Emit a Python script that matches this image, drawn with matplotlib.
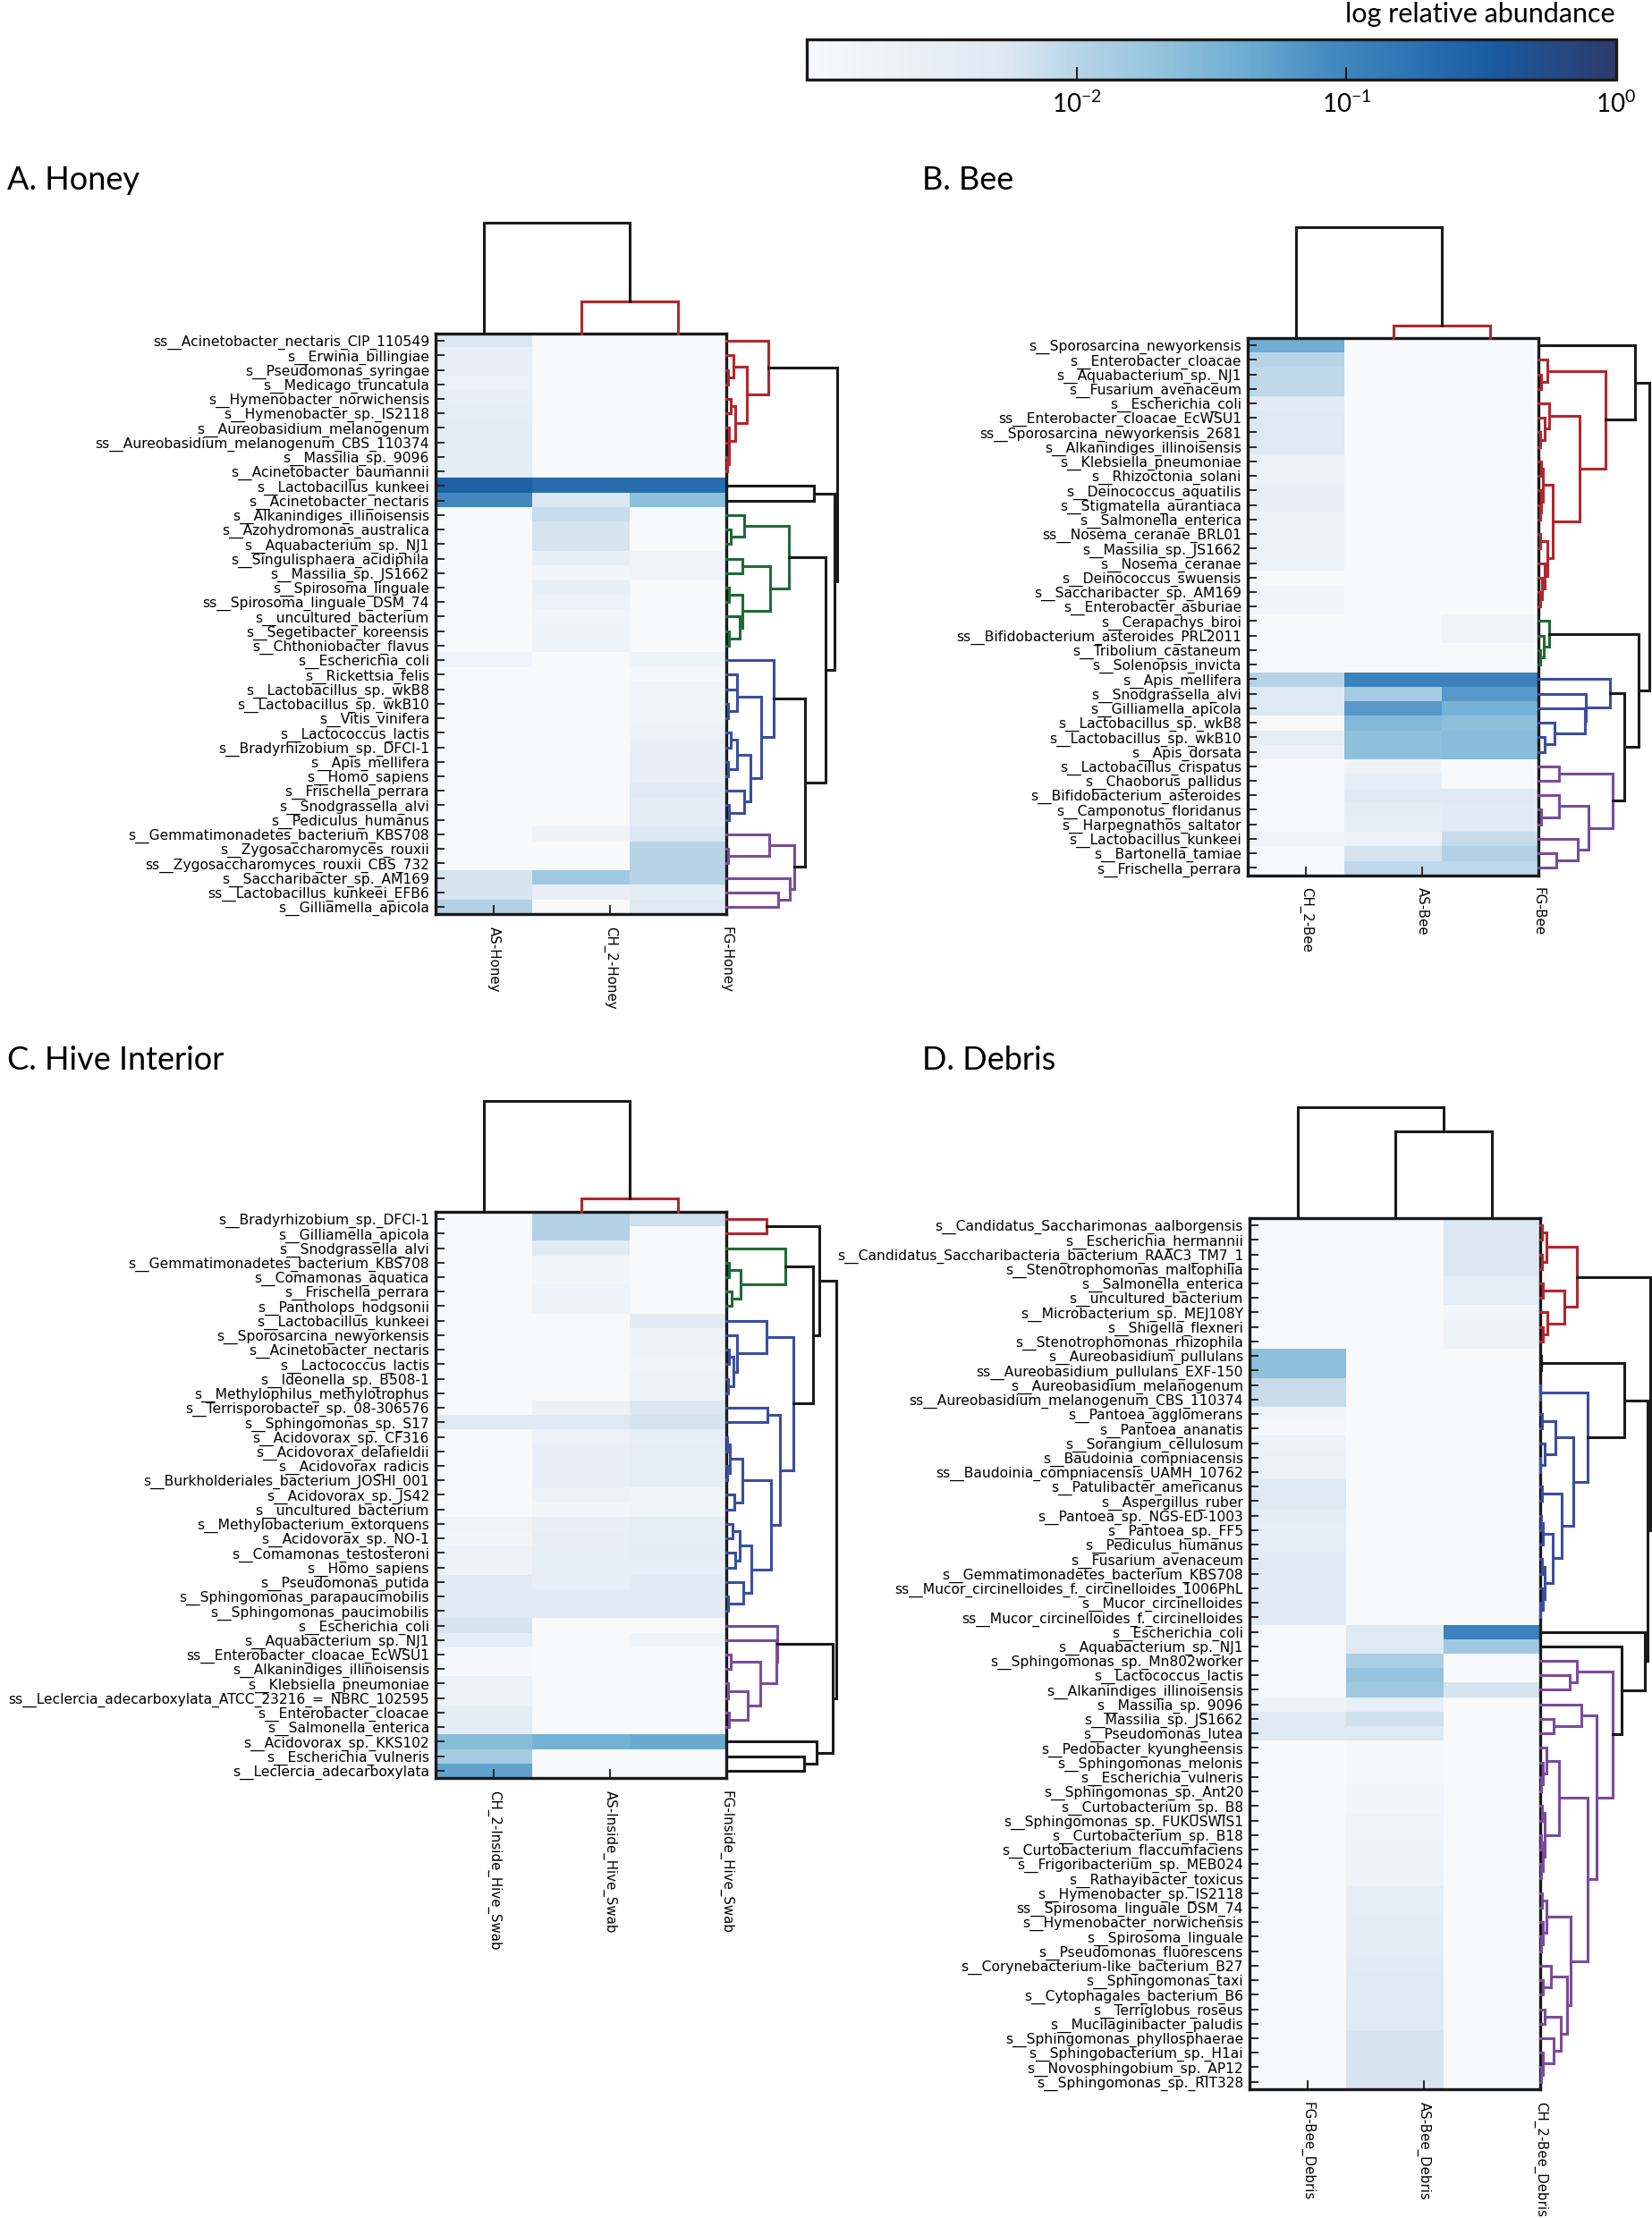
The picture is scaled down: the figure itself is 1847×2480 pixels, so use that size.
import numpy as np
import matplotlib
matplotlib.use('Agg')
import matplotlib.pyplot as plt
from matplotlib.colors import LinearSegmentedColormap, Normalize, LogNorm
from matplotlib.cm import ScalarMappable

# ---------------- DATA ----------------
# values are log10(relative abundance), floor at -3
A_rows = ['ss__Acinetobacter_nectaris_CIP_110549', 's__Erwinia_billingiae', 's__Pseudomonas_syringae',
          's__Medicago_truncatula', 's__Hymenobacter_norwichensis', 's__Hymenobacter_sp._IS2118',
          's__Aureobasidium_melanogenum', 'ss__Aureobasidium_melanogenum_CBS_110374', 's__Massilia_sp._9096',
          's__Acinetobacter_baumannii', 's__Lactobacillus_kunkeei', 's__Acinetobacter_nectaris',
          's__Alkanindiges_illinoisensis', 's__Azohydromonas_australica', 's__Aquabacterium_sp._NJ1',
          's__Singulisphaera_acidiphila', 's__Massilia_sp._JS1662', 's__Spirosoma_linguale',
          'ss__Spirosoma_linguale_DSM_74', 's__uncultured_bacterium', 's__Segetibacter_koreensis',
          's__Chthoniobacter_flavus', 's__Escherichia_coli', 's__Rickettsia_felis', 's__Lactobacillus_sp._wkB8',
          's__Lactobacillus_sp._wkB10', 's__Vitis_vinifera', 's__Lactococcus_lactis',
          's__Bradyrhizobium_sp._DFCI-1', 's__Apis_mellifera', 's__Homo_sapiens', 's__Frischella_perrara',
          's__Snodgrassella_alvi', 's__Pediculus_humanus', 's__Gemmatimonadetes_bacterium_KBS708',
          's__Zygosaccharomyces_rouxii', 'ss__Zygosaccharomyces_rouxii_CBS_732', 's__Saccharibacter_sp._AM169',
          'ss__Lactobacillus_kunkeei_EFB6', 's__Gilliamella_apicola']
A_cols = ['AS-Honey', 'CH_2-Honey', 'FG-Honey']
A_c1 = [-2.25, -2.6, -2.6, -2.65, -2.55, -2.5, -2.45, -2.45, -2.45, -2.45, -0.55, -1.05, -3, -3, -3, -3, -3, -3, -3, -3,
        -3, -3, -2.8, -3, -3, -3, -3, -3, -3, -3, -3, -3, -3, -3, -3, -3, -3, -2.2, -2.2, -1.95]
A_c2 = [-3, -3, -3, -3, -3, -3, -3, -3, -3, -3, -0.68, -2.25, -2.1, -2.2, -2.2, -2.6, -2.9, -2.6, -2.65, -2.8,
        -2.75, -2.75, -3, -3, -3, -3, -3, -3, -3, -3, -3, -3, -3, -3, -2.75, -3, -3, -1.8, -2.55, -3]
A_c3 = [-3, -3, -3, -3, -3, -3, -3, -3, -3, -3, -0.68, -1.65, -3, -3, -3, -2.8, -2.8, -3, -3, -3,
        -3, -3, -2.75, -2.95, -2.8, -2.8, -2.8, -2.7, -2.6, -2.55, -2.55, -2.35, -2.45, -2.45, -2.25, -2.0, -2.0, -2.0, -2.45, -2.3]

B_rows = ['s__Sporosarcina_newyorkensis', 's__Enterobacter_cloacae', 's__Aquabacterium_sp._NJ1',
          's__Fusarium_avenaceum', 's__Escherichia_coli', 'ss__Enterobacter_cloacae_EcWSU1',
          'ss__Sporosarcina_newyorkensis_2681', 's__Alkanindiges_illinoisensis', 's__Klebsiella_pneumoniae',
          's__Rhizoctonia_solani', 's__Deinococcus_aquatilis', 's__Stigmatella_aurantiaca', 's__Salmonella_enterica',
          'ss__Nosema_ceranae_BRL01', 's__Massilia_sp._JS1662', 's__Nosema_ceranae', 's__Deinococcus_swuensis',
          's__Saccharibacter_sp._AM169', 's__Enterobacter_asburiae', 's__Cerapachys_biroi',
          'ss__Bifidobacterium_asteroides_PRL2011', 's__Tribolium_castaneum', 's__Solenopsis_invicta',
          's__Apis_mellifera', 's__Snodgrassella_alvi', 's__Gilliamella_apicola', 's__Lactobacillus_sp._wkB8',
          's__Lactobacillus_sp._wkB10', 's__Apis_dorsata', 's__Lactobacillus_crispatus', 's__Chaoborus_pallidus',
          's__Bifidobacterium_asteroides', 's__Camponotus_floridanus', 's__Harpegnathos_saltator',
          's__Lactobacillus_kunkeei', 's__Bartonella_tamiae', 's__Frischella_perrara']
B_cols = ['CH_2-Bee', 'AS-Bee', 'FG-Bee']
B_c1 = [-1.4, -2.0, -2.05, -2.05, -2.4, -2.3, -2.3, -2.3, -2.65, -2.65, -2.6, -2.6, -2.7, -2.7, -2.7, -2.7, -3,
        -2.85, -2.85, -3, -3, -3, -3, -2.0, -2.3, -2.3, -3, -2.5, -2.7, -3, -3, -3, -3, -3, -2.8, -3, -3]
B_c2 = [-3, -3, -3, -3, -3, -3, -3, -3, -3, -3, -3, -3, -3, -3, -3, -3, -3, -3, -3, -3, -3, -3, -3,
        -0.95, -1.85, -1.2, -1.55, -1.65, -1.65, -2.75, -2.5, -2.3, -2.45, -2.5, -2.65, -2.2, -2.05]
B_c3 = [-3, -3, -3, -3, -3, -3, -3, -3, -3, -3, -3, -3, -3, -3, -3, -3, -3, -3, -3, -2.8, -2.8, -3, -3,
        -0.95, -1.2, -1.45, -1.65, -1.6, -1.6, -3, -3, -2.3, -2.4, -2.4, -2.1, -1.95, -2.05]

C_rows = ['s__Bradyrhizobium_sp._DFCI-1', 's__Gilliamella_apicola', 's__Snodgrassella_alvi',
          's__Gemmatimonadetes_bacterium_KBS708', 's__Comamonas_aquatica', 's__Frischella_perrara',
          's__Pantholops_hodgsonii', 's__Lactobacillus_kunkeei', 's__Sporosarcina_newyorkensis',
          's__Acinetobacter_nectaris', 's__Lactococcus_lactis', 's__Ideonella_sp._B508-1',
          's__Methylophilus_methylotrophus', 's__Terrisporobacter_sp._08-306576', 's__Sphingomonas_sp._S17',
          's__Acidovorax_sp._CF316', 's__Acidovorax_delafieldii', 's__Acidovorax_radicis',
          's__Burkholderiales_bacterium_JOSHI_001', 's__Acidovorax_sp._JS42', 's__uncultured_bacterium',
          's__Methylobacterium_extorquens', 's__Acidovorax_sp._NO-1', 's__Comamonas_testosteroni',
          's__Homo_sapiens', 's__Pseudomonas_putida', 's__Sphingomonas_parapaucimobilis',
          's__Sphingomonas_paucimobilis', 's__Escherichia_coli', 's__Aquabacterium_sp._NJ1',
          'ss__Enterobacter_cloacae_EcWSU1', 's__Alkanindiges_illinoisensis', 's__Klebsiella_pneumoniae',
          'ss__Leclercia_adecarboxylata_ATCC_23216_=_NBRC_102595', 's__Enterobacter_cloacae',
          's__Salmonella_enterica', 's__Acidovorax_sp._KKS102', 's__Escherichia_vulneris',
          's__Leclercia_adecarboxylata']
C_cols = ['CH_2-Inside_Hive_Swab', 'AS-Inside_Hive_Swab', 'FG-Inside_Hive_Swab']
C_c1 = [-3, -3, -3, -3, -3, -3, -3, -3, -3, -3, -3, -3, -3, -3, -2.3, -3, -3, -3, -3, -3, -3, -2.8, -2.9, -2.7,
        -2.75, -2.4, -2.4, -2.4, -2.2, -2.5, -2.95, -2.95, -2.65, -2.65, -2.45, -2.45, -1.6, -1.85, -1.3]
C_c2 = [-1.95, -1.95, -2.35, -2.9, -2.9, -2.7, -2.7, -3, -3, -3, -3, -3, -3, -2.7, -2.3, -2.65, -2.6, -2.6, -2.6,
        -2.7, -2.9, -2.6, -2.55, -2.5, -2.5, -2.55, -2.4, -2.4, -3, -3, -3, -3, -3, -3, -3, -3, -1.45, -3, -3]
C_c3 = [-2.15, -3, -3, -3, -3, -3, -3, -2.4, -2.75, -2.75, -2.8, -2.7, -2.7, -2.25, -2.2, -2.55, -2.5, -2.5, -2.5,
        -2.8, -2.8, -2.5, -2.5, -2.45, -2.5, -2.4, -2.4, -2.4, -3, -2.75, -3, -3, -3, -3, -3, -3, -1.35, -3, -3]

D_rows = ['s__Candidatus_Saccharimonas_aalborgensis', 's__Escherichia_hermannii',
          's__Candidatus_Saccharibacteria_bacterium_RAAC3_TM7_1', 's__Stenotrophomonas_maltophilia',
          's__Salmonella_enterica', 's__uncultured_bacterium', 's__Microbacterium_sp._MEJ108Y',
          's__Shigella_flexneri', 's__Stenotrophomonas_rhizophila', 's__Aureobasidium_pullulans',
          'ss__Aureobasidium_pullulans_EXF-150', 's__Aureobasidium_melanogenum',
          'ss__Aureobasidium_melanogenum_CBS_110374', 's__Pantoea_agglomerans', 's__Pantoea_ananatis',
          's__Sorangium_cellulosum', 's__Baudoinia_compniacensis', 'ss__Baudoinia_compniacensis_UAMH_10762',
          's__Patulibacter_americanus', 's__Aspergillus_ruber', 's__Pantoea_sp._NGS-ED-1003', 's__Pantoea_sp._FF5',
          's__Pediculus_humanus', 's__Fusarium_avenaceum', 's__Gemmatimonadetes_bacterium_KBS708',
          'ss__Mucor_circinelloides_f._circinelloides_1006PhL', 's__Mucor_circinelloides',
          'ss__Mucor_circinelloides_f._circinelloides', 's__Escherichia_coli', 's__Aquabacterium_sp._NJ1',
          's__Sphingomonas_sp._Mn802worker', 's__Lactococcus_lactis', 's__Alkanindiges_illinoisensis',
          's__Massilia_sp._9096', 's__Massilia_sp._JS1662', 's__Pseudomonas_lutea', 's__Pedobacter_kyungheensis',
          's__Sphingomonas_melonis', 's__Escherichia_vulneris', 's__Sphingomonas_sp._Ant20',
          's__Curtobacterium_sp._B8', 's__Sphingomonas_sp._FUKUSWIS1', 's__Curtobacterium_sp._B18',
          's__Curtobacterium_flaccumfaciens', 's__Frigoribacterium_sp._MEB024', 's__Rathayibacter_toxicus',
          's__Hymenobacter_sp._IS2118', 'ss__Spirosoma_linguale_DSM_74', 's__Hymenobacter_norwichensis',
          's__Spirosoma_linguale', 's__Pseudomonas_fluorescens', 's__Corynebacterium-like_bacterium_B27',
          's__Sphingomonas_taxi', 's__Cytophagales_bacterium_B6', 's__Terriglobus_roseus',
          's__Mucilaginibacter_paludis', 's__Sphingomonas_phyllosphaerae', 's__Sphingobacterium_sp._H1ai',
          's__Novosphingobium_sp._AP12', 's__Sphingomonas_sp._RIT328']
D_cols = ['FG-Bee_Debris', 'AS-Bee_Debris', 'CH_2-Bee_Debris']
D_c1 = [-3, -3, -3, -3, -3, -3, -3, -3, -3, -1.65, -1.65, -2.1, -2.1, -2.9, -2.95, -2.7, -2.65, -2.65, -2.3, -2.3,
        -2.45, -2.5, -2.5, -2.4, -2.4, -2.4, -2.4, -2.4, -3, -3, -3, -3, -3, -2.75, -2.3, -2.3,
        -3, -3, -3, -3, -3, -3, -3, -3, -3, -3, -3, -3, -3, -3, -3, -3, -3, -3, -3, -3, -3, -3, -3, -3]
D_c2 = [-3, -3, -3, -3, -3, -3, -3, -3, -3, -3, -3, -3, -3, -3, -3, -3, -3, -3, -3, -3,
        -3, -3, -3, -3, -3, -3, -3, -3, -2.3, -2.3, -1.9, -1.7, -1.8, -2.6, -2.15, -2.3,
        -2.95, -2.95, -2.95, -2.85, -2.85, -2.8, -2.8, -2.75, -2.75, -2.7, -2.5, -2.5, -2.45, -2.45,
        -2.45, -2.4, -2.35, -2.35, -2.3, -2.3, -2.2, -2.2, -2.2, -2.2]
D_c3 = [-2.25, -2.25, -2.25, -2.25, -2.5, -2.5, -2.85, -2.75, -2.75, -3, -3, -3, -3, -3, -3, -3, -3, -3, -3, -3,
        -3, -3, -3, -3, -3, -3, -3, -3, -0.95, -1.8, -3, -3, -2.2, -3, -3, -3,
        -3, -3, -3, -3, -3, -3, -3, -3, -3, -3, -3, -3, -3, -3, -3, -3, -3, -3, -3, -3, -3, -3, -3, -3]

RED, GREEN, BLUE, PURPLE, BLK = '#b0282e', '#1f6b37', '#3b4ea2', '#7a4c9c', '#1a1a1a'

# dendrograms: [left, right, height(, colour)]; leaves are row/column indices
A_red = [0, [[1, [2, 3, 5], 25], [[4, 5, 15], [6, [7, [8, 9, 3], 8], 10], 30], 70], 140, RED]
A_green = [[12, [13, 14, 15], 60], [[15, 16, 55], [[17, 18, 10], [19, [20, 21, 10], 45], 55], 147], 210, GREEN]
A_b2 = [[23, 24, 35], [25, 26, 5], 37]
A_b3 = [[[27, 28, 15], [29, 30, 5], 35], [31, [32, 33, 10], 60], 80]
A_blue = [22, [A_b2, A_b3, 118], 160, BLUE]
A_purple = [[34, [35, 36, 5], 143], [37, [38, 39, 175], 215], 230, PURPLE]
A_tree = [A_red, [[10, 11, 295], [A_green, [A_blue, A_purple, 265], 335], 365], 373]

B_r1 = [1, [2, 3, 10], 30]
B_r3 = [4, [5, [6, 7, 5], 20], 37]
B_r5 = [[8, 9, 8], [10, [11, 12, 5], 10], 15]
B_r6 = [[13, 14, 5], [15, [16, [17, 18, 5], 12], 20], 30]
B_red = [B_r1, [B_r3, [B_r5, B_r6, 48], 137], 227, RED]
B_green = [19, [20, [21, 22, 5], 18], 37, GREEN]
B_blue = [23, [24, [25, [26, [27, 28, 20], 55], 155], 160], 242, BLUE]
B_purple = [[29, 30, 70], [[31, [32, 33, 10], 68], [34, [35, 36, 60], 133], 168], 250, PURPLE]
B_tree = [[0, B_red, 325], [B_green, [B_blue, B_purple, 290], 337], 372]

C_red = [0, 1, 136, RED]
C_green = [2, [[3, 4, 8], [5, 6, 18], 48], 200, GREEN]
C_b1 = [7, [8, [[9, 10, 10], [11, 12, 5], 25], 35], 135]
C_b5 = [[[15, 16, 3], [17, 18, 3], 13], [19, 20, 26], 53]
C_b6 = [[[21, 22, 20], [23, 24, 30], 46], [25, [26, 27, 5], 56], 85]
C_b2 = [[13, 14, 138], [C_b5, C_b6, 150], 180]
C_blue = [C_b1, C_b2, 226, BLUE]
C_purple = [28, [29, [[30, 31, 15], [[32, 33, 5], [34, 35, 8], 73], 113], 167], 170, PURPLE]
C_tree = [[C_red, [C_green, C_blue, 293], 313], [C_purple, [36, [37, 38, 261], 303], 358], 370]

D_red = [[[0, 1, 5], [2, 3, 5], 20], [[4, 5, 10], [6, [7, 8, 8], 25], 80], 123, RED]
D_b2 = [[13, 14, 5], [15, [16, 17, 1], 15], 50]
D_b3 = [[18, 19, 5], [[[20, 21, 3], 22, 8], [[23, 24, 5], [25, [26, 27, 1], 8], 15], 43], 73]
D_blue = [[11, 12, 1], [D_b2, D_b3, 110], 160, BLUE]
D_p5 = [[36, [37, [38, 39, 3], 8], 20], [[40, 41, 5], [[42, 43, 3], [44, 45, 3], 8], 15], 63]
D_p6 = [[[46, 47, 5], [48, [49, 50, 3], 10], 20],
        [[51, [52, 53, 10], 35], [[54, 55, 15], [56, [57, [58, 59, 3], 8], 45], 70], 90], 103]
D_p2 = [[33, [34, 35, 45], 137], [D_p5, D_p6, 158], 190]
D_purple = [[30, [31, 32, 100], 123], D_p2, 243, PURPLE]
D_tree = [D_red, [[[9, 10, 2], D_blue, 283], [28, [29, D_purple, 275], 353], 360], 370]

A_coltree = [0, [1, 2, 0.29, RED], 1.0]
B_coltree = [0, [1, 2, 0.11, RED], 1.0]
C_coltree = [0, [1, 2, 0.12, RED], 1.0]
D_coltree = [0, [1, 2, 0.78], 1.0]

# ---------------- FIGURE ----------------
W, H = 1847, 2480
fig = plt.figure(figsize=(W / 100, H / 100), dpi=100)


def rect(l, t, r, b):
    return [l / W, 1 - b / H, (r - l) / W, (b - t) / H]


cmap = LinearSegmentedColormap.from_list('ra', [(0.0, '#f7f9fb'), (0.25, '#dde8f2'), (0.33, '#b9d5e8'),
                                                (0.45, '#8fc0dc'), (0.55, '#6aaad2'), (0.65, '#4389c0'),
                                                (0.75, '#2b73b3'), (0.85, '#1a5aa0'), (1.0, '#2d3a6c')])
LW = 2.2


def draw_tree(ax, node, orient, color=BLK):
    if isinstance(node, int):
        return node + 0.5, 0.0
    c = node[3] if len(node) > 3 else color
    p1, h1 = draw_tree(ax, node[0], orient, c)
    p2, h2 = draw_tree(ax, node[1], orient, c)
    h = node[2]
    ps, hs = [p1, p1, p2, p2], [h1, h, h, h2]
    if orient == 'right':
        ax.plot(hs, ps, color=c, lw=LW, clip_on=False, solid_joinstyle='miter')
    else:
        ax.plot(ps, hs, color=c, lw=LW, clip_on=False, solid_joinstyle='miter')
    return (p1 + p2) / 2, h


def panel(l, t, rows, cols, c1, c2, c3, tree, coltree):
    n = len(rows)
    b = t + 16.23 * n
    r = l + 325
    vals = np.column_stack([c1, c2, c3])
    ax = fig.add_axes(rect(l, t, r, b))
    ax.imshow(vals, cmap=cmap, norm=Normalize(-3, 0), aspect='auto', interpolation='nearest',
              extent=(0, 3, n, 0))
    ax.set_yticks(np.arange(n) + 0.5)
    ax.set_yticklabels(rows, fontsize=11.2)
    ax.set_xticks([0.6, 1.8, 3.0])
    ax.set_xticklabels(cols, rotation=270, fontsize=10.8)
    ax.tick_params(direction='in', length=7, width=1.3, color=BLK)
    ax.tick_params(axis='y', pad=5)
    ax.tick_params(axis='x', pad=10)
    for s in ax.spines.values():
        s.set_linewidth(2.4)
        s.set_color(BLK)
    axr = fig.add_axes(rect(r, t, r + 124, b))
    draw_tree(axr, tree, 'right')
    axr.set_xlim(0, 373)
    axr.set_ylim(n, 0)
    axr.axis('off')
    axc = fig.add_axes(rect(l, t - 124, r, t))
    draw_tree(axc, coltree, 'top')
    axc.set_xlim(0, 3)
    axc.set_ylim(0, 1.0)
    axc.axis('off')


panel(487, 373, A_rows, A_cols, A_c1, A_c2, A_c3, A_tree, A_coltree)
panel(1395, 378, B_rows, B_cols, B_c1, B_c2, B_c3, B_tree, B_coltree)
panel(487, 1355, C_rows, C_cols, C_c1, C_c2, C_c3, C_tree, C_coltree)
panel(1397, 1362, D_rows, D_cols, D_c1, D_c2, D_c3, D_tree, D_coltree)

TF = ['Lato', 'DejaVu Sans']
for txt, x, y in [('A. Honey', 8, 202), ('B. Bee', 1031, 202), ('C. Hive Interior', 8, 1186), ('D. Debris', 1031, 1186)]:
    fig.text(x / W, 1 - y / H, txt, fontsize=26, family=TF, va='center', ha='left')

# colour bar
cax = fig.add_axes(rect(902, 44, 1807, 89))
cb = fig.colorbar(ScalarMappable(norm=LogNorm(1e-3, 1), cmap=cmap), cax=cax, orientation='horizontal')
cb.set_ticks([1e-2, 1e-1, 1.0])
cb.set_ticklabels([r'$\mathregular{10^{-2}}$', r'$\mathregular{10^{-1}}$', r'$\mathregular{10^{0}}$'])
cax.minorticks_off()
cax.tick_params(direction='in', length=10, width=1.2, pad=9, labelsize=20)
for lab in cax.get_xticklabels():
    lab.set_family(TF)
cb.outline.set_linewidth(2.4)
cb.outline.set_edgecolor(BLK)
fig.text(1806 / W, 1 - 16 / H, 'log relative abundance', fontsize=22, family=TF, ha='right', va='center')

fig.savefig('out.png', dpi=100)
